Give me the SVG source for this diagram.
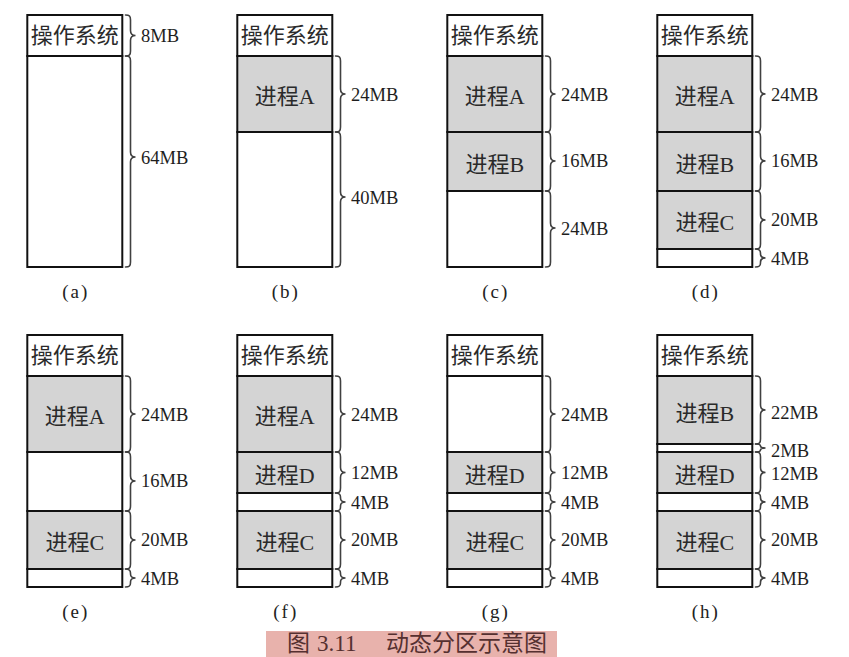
<svg xmlns="http://www.w3.org/2000/svg" xmlns:xlink="http://www.w3.org/1999/xlink" width="849" height="657" viewBox="0 0 849 657">
  <style>
    .free { fill: #ffffff; stroke: #111; stroke-width: 2; }
    .proc { fill: #d4d4d4; stroke: #111; stroke-width: 2; }
    .brace { fill: none; stroke: #404040; stroke-width: 1.6; stroke-linecap: round; }
    .size { font-family: "Liberation Serif", "Noto Sans CJK SC", serif; font-size: 18.5px; fill: #1e1e1e; }
    .name { font-family: "Liberation Serif", "Noto Sans CJK SC", serif; font-size: 22px; fill: #2a2a2a; text-anchor: middle; }
    .sub { font-family: "Liberation Serif", serif; font-size: 19px; fill: #222; text-anchor: middle; letter-spacing: 2px; }
    .cap { font-family: "Liberation Serif", "Noto Sans CJK SC", serif; font-size: 23px; fill: #553030; }
  </style>
  <defs>
    <!-- curly braces, drawn in the coordinates of the left-hand column, top row -->
    <path id="br-8" class="brace" d="M125.5 15 c4 0 5 1 5 5 V30.5 c0 4 2 5 5 5 c-3 0 -5 1 -5 5 V51 c0 4 -1 5 -5 5"/>
    <path id="br-64" class="brace" d="M125.5 56 c4 0 5 1 5 5 V152 c0 4 2 5 5 5 c-3 0 -5 1 -5 5 V262 c0 4 -1 5 -5 5"/>
    <path id="br-24" class="brace" d="M125.5 56 c4 0 5 1 5 5 V89 c0 4 2 5 5 5 c-3 0 -5 1 -5 5 V127 c0 4 -1 5 -5 5"/>
    <path id="br-40" class="brace" d="M125.5 132 c4 0 5 1 5 5 V192 c0 4 2 5 5 5 c-3 0 -5 1 -5 5 V262 c0 4 -1 5 -5 5"/>
    <path id="br-16" class="brace" d="M125.5 132 c4 0 5 1 5 5 V156 c0 4 2 5 5 5 c-3 0 -5 1 -5 5 V186 c0 4 -1 5 -5 5"/>
    <path id="br-24low" class="brace" d="M125.5 191 c4 0 5 1 5 5 V223 c0 4 2 5 5 5 c-3 0 -5 1 -5 5 V262 c0 4 -1 5 -5 5"/>
    <path id="br-20" class="brace" d="M125.5 191 c4 0 5 1 5 5 V215 c0 4 2 5 5 5 c-3 0 -5 1 -5 5 V244 c0 4 -1 5 -5 5"/>
    <path id="br-4end" class="brace" d="M125.5 249 c3 0 5 1 5 4 V254 c0 3 2 4 5 4 c-3 0 -5 1 -5 4 V263 c0 3 -1 4 -5 4"/>
    <path id="br-12" class="brace" d="M125.5 132 c4 0 5 1 5 5 V147.5 c0 4 2 5 5 5 c-3 0 -5 1 -5 5 V168 c0 4 -1 5 -5 5"/>
    <path id="br-4mid" class="brace" d="M125.5 173 c3 0 5 1 5 4 V178 c0 3 2 4 5 4 c-3 0 -5 1 -5 4 V187 c0 3 -1 4 -5 4"/>
    <path id="br-22" class="brace" d="M125.5 56 c4 0 5 1 5 5 V85 c0 4 2 5 5 5 c-3 0 -5 1 -5 5 V119 c0 4 -1 5 -5 5"/>
    <path id="br-2" class="brace" d="M125.5 124 c3 0 5 0.5 5 2 V126 c0 1.5 2 2 5 2 c-3 0 -5 0.5 -5 2 V130 c0 1.5 -2 2 -5 2"/>
  </defs>

  <!-- (a) operating system only -->
  <g id="panel-a">
    <rect class="free" x="27.3" y="15" width="95" height="41"/>
    <rect class="free" x="27.3" y="56" width="95" height="211"/>
    <text class="name" x="74.8" y="43">操作系统</text>
    <use href="#br-8"/><use href="#br-64"/>
    <text class="size" x="141" y="41.5">8MB</text>
    <text class="size" x="141" y="163.5">64MB</text>
    <text class="sub" x="75.8" y="298">(a)</text>
  </g>

  <!-- (b) process A loaded -->
  <g id="panel-b" transform="translate(210,0)">
    <rect class="free" x="27.3" y="15" width="95" height="41"/>
    <rect class="proc" x="27.3" y="56" width="95" height="76"/>
    <rect class="free" x="27.3" y="132" width="95" height="135"/>
    <text class="name" x="74.8" y="43">操作系统</text>
    <text class="name" x="74.8" y="104">进程A</text>
    <use href="#br-24"/><use href="#br-40"/>
    <text class="size" x="141" y="100.5">24MB</text>
    <text class="size" x="141" y="203.5">40MB</text>
    <text class="sub" x="75.8" y="298">(b)</text>
  </g>

  <!-- (c) process B loaded -->
  <g id="panel-c" transform="translate(420,0)">
    <rect class="free" x="27.3" y="15" width="95" height="41"/>
    <rect class="proc" x="27.3" y="56" width="95" height="76"/>
    <rect class="proc" x="27.3" y="132" width="95" height="59"/>
    <rect class="free" x="27.3" y="191" width="95" height="76"/>
    <text class="name" x="74.8" y="43">操作系统</text>
    <text class="name" x="74.8" y="104">进程A</text>
    <text class="name" x="74.8" y="171.5">进程B</text>
    <use href="#br-24"/><use href="#br-16"/><use href="#br-24low"/>
    <text class="size" x="141" y="100.5">24MB</text>
    <text class="size" x="141" y="167">16MB</text>
    <text class="size" x="141" y="234.5">24MB</text>
    <text class="sub" x="75.8" y="298">(c)</text>
  </g>

  <!-- (d) process C loaded -->
  <g id="panel-d" transform="translate(630,0)">
    <rect class="free" x="27.3" y="15" width="95" height="41"/>
    <rect class="proc" x="27.3" y="56" width="95" height="76"/>
    <rect class="proc" x="27.3" y="132" width="95" height="59"/>
    <rect class="proc" x="27.3" y="191" width="95" height="58"/>
    <rect class="free" x="27.3" y="249" width="95" height="18"/>
    <text class="name" x="74.8" y="43">操作系统</text>
    <text class="name" x="74.8" y="104">进程A</text>
    <text class="name" x="74.8" y="171.5">进程B</text>
    <text class="name" x="74.8" y="230">进程C</text>
    <use href="#br-24"/><use href="#br-16"/><use href="#br-20"/><use href="#br-4end"/>
    <text class="size" x="141" y="100.5">24MB</text>
    <text class="size" x="141" y="167">16MB</text>
    <text class="size" x="141" y="226">20MB</text>
    <text class="size" x="141" y="264.5">4MB</text>
    <text class="sub" x="75.8" y="298">(d)</text>
  </g>

  <!-- (e) process B released -->
  <g id="panel-e" transform="translate(0,320)">
    <rect class="free" x="27.3" y="15" width="95" height="41"/>
    <rect class="proc" x="27.3" y="56" width="95" height="76"/>
    <rect class="free" x="27.3" y="132" width="95" height="59"/>
    <rect class="proc" x="27.3" y="191" width="95" height="58"/>
    <rect class="free" x="27.3" y="249" width="95" height="18"/>
    <text class="name" x="74.8" y="43">操作系统</text>
    <text class="name" x="74.8" y="104">进程A</text>
    <text class="name" x="74.8" y="230">进程C</text>
    <use href="#br-24"/><use href="#br-16"/><use href="#br-20"/><use href="#br-4end"/>
    <text class="size" x="141" y="100.5">24MB</text>
    <text class="size" x="141" y="167">16MB</text>
    <text class="size" x="141" y="226">20MB</text>
    <text class="size" x="141" y="264.5">4MB</text>
    <text class="sub" x="75.8" y="298">(e)</text>
  </g>

  <!-- (f) process D loaded into the hole -->
  <g id="panel-f" transform="translate(210,320)">
    <rect class="free" x="27.3" y="15" width="95" height="41"/>
    <rect class="proc" x="27.3" y="56" width="95" height="76"/>
    <rect class="proc" x="27.3" y="132" width="95" height="41"/>
    <rect class="free" x="27.3" y="173" width="95" height="18"/>
    <rect class="proc" x="27.3" y="191" width="95" height="58"/>
    <rect class="free" x="27.3" y="249" width="95" height="18"/>
    <text class="name" x="74.8" y="43">操作系统</text>
    <text class="name" x="74.8" y="104">进程A</text>
    <text class="name" x="74.8" y="162.5">进程D</text>
    <text class="name" x="74.8" y="230">进程C</text>
    <use href="#br-24"/><use href="#br-12"/><use href="#br-4mid"/><use href="#br-20"/><use href="#br-4end"/>
    <text class="size" x="141" y="100.5">24MB</text>
    <text class="size" x="141" y="159">12MB</text>
    <text class="size" x="141" y="188.5">4MB</text>
    <text class="size" x="141" y="226">20MB</text>
    <text class="size" x="141" y="264.5">4MB</text>
    <text class="sub" x="75.8" y="298">(f)</text>
  </g>

  <!-- (g) process A released -->
  <g id="panel-g" transform="translate(420,320)">
    <rect class="free" x="27.3" y="15" width="95" height="41"/>
    <rect class="free" x="27.3" y="56" width="95" height="76"/>
    <rect class="proc" x="27.3" y="132" width="95" height="41"/>
    <rect class="free" x="27.3" y="173" width="95" height="18"/>
    <rect class="proc" x="27.3" y="191" width="95" height="58"/>
    <rect class="free" x="27.3" y="249" width="95" height="18"/>
    <text class="name" x="74.8" y="43">操作系统</text>
    <text class="name" x="74.8" y="162.5">进程D</text>
    <text class="name" x="74.8" y="230">进程C</text>
    <use href="#br-24"/><use href="#br-12"/><use href="#br-4mid"/><use href="#br-20"/><use href="#br-4end"/>
    <text class="size" x="141" y="100.5">24MB</text>
    <text class="size" x="141" y="159">12MB</text>
    <text class="size" x="141" y="188.5">4MB</text>
    <text class="size" x="141" y="226">20MB</text>
    <text class="size" x="141" y="264.5">4MB</text>
    <text class="sub" x="75.8" y="298">(g)</text>
  </g>

  <!-- (h) process B reloaded -->
  <g id="panel-h" transform="translate(630,320)">
    <rect class="free" x="27.3" y="15" width="95" height="41"/>
    <rect class="proc" x="27.3" y="56" width="95" height="68"/>
    <rect class="free" x="27.3" y="124" width="95" height="8"/>
    <rect class="proc" x="27.3" y="132" width="95" height="41"/>
    <rect class="free" x="27.3" y="173" width="95" height="18"/>
    <rect class="proc" x="27.3" y="191" width="95" height="58"/>
    <rect class="free" x="27.3" y="249" width="95" height="18"/>
    <text class="name" x="74.8" y="43">操作系统</text>
    <text class="name" x="74.8" y="101">进程B</text>
    <text class="name" x="74.8" y="162.5">进程D</text>
    <text class="name" x="74.8" y="230">进程C</text>
    <use href="#br-22"/><use href="#br-2"/><use href="#br-12"/><use href="#br-4mid"/><use href="#br-20"/><use href="#br-4end"/>
    <text class="size" x="141" y="99">22MB</text>
    <text class="size" x="141" y="137">2MB</text>
    <text class="size" x="141" y="159.5">12MB</text>
    <text class="size" x="141" y="188.5">4MB</text>
    <text class="size" x="141" y="226">20MB</text>
    <text class="size" x="141" y="264.5">4MB</text>
    <text class="sub" x="75.8" y="298">(h)</text>
  </g>

  <!-- caption -->
  <g id="caption">
    <rect x="266" y="631" width="291" height="26" fill="#e8b2ac"/>
    <text class="cap" x="287" y="651">图</text>
    <text class="cap" x="317" y="651">3.11</text>
    <text class="cap" x="386" y="651">动态分区示意图</text>
  </g>
</svg>
